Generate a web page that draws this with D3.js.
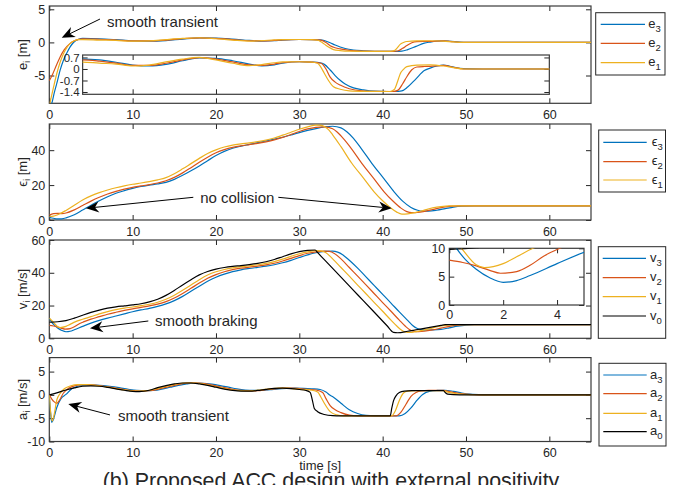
<!DOCTYPE html>
<html>
<head>
<meta charset="utf-8">
<script src="https://cdn.jsdelivr.net/npm/d3@7"></script>
<style>
  body { margin: 0; background: #fff; }
  svg { display: block; }
  text { font-family: "Liberation Sans", Arial, Helvetica, sans-serif; fill: #262626; }
</style>
</head>
<body>
<svg id="chart" width="679" height="485"></svg>
<script>
// ---- data: [time s, value] ----
const e3 = [[0,-10],[0.3,-9.2],[0.6,-7.6],[0.9,-6.2],[1.3,-4.2],[1.7,-2.7],[2.1,-1.6],[2.5,-0.67],[3,0.1],[3.5,0.45],[4,0.6],[6,0.55],[8,0.41],[10,0.24],[12,0.18],[14,0.28],[16,0.5],[18,0.68],[20,0.65],[22,0.5],[24,0.3],[25.5,0.18],[27,0.25],[28,0.35],[30,0.44],[31.5,0.42],[32.5,0.38],[33,0.28],[33.7,-0.06],[34.3,-0.4],[34.9,-0.69],[35.5,-0.92],[36.5,-1.15],[37.7,-1.27],[39,-1.35],[40.5,-1.37],[41.5,-1.37],[42.3,-1.33],[43,-1.1],[44,-0.6],[45,-0.1],[45.7,0.05],[46.5,0.18],[47.3,0.24],[48.2,0.15],[49.7,0.02],[52,0],[65,0]];
const e2 = [[0,-5.8],[0.4,-4.8],[0.8,-3.6],[1.3,-2.2],[1.8,-1.1],[2.5,-0.15],[3,0.25],[3.5,0.45],[4,0.55],[6,0.48],[8,0.36],[10,0.22],[12,0.22],[14,0.35],[16,0.55],[18,0.69],[20,0.6],[22,0.43],[24,0.25],[25.5,0.22],[27,0.3],[28,0.38],[30,0.44],[31.5,0.42],[32.6,0.35],[33.2,0],[33.7,-0.5],[34.3,-0.8],[34.9,-0.98],[36,-1.2],[37.5,-1.33],[39,-1.36],[41.2,-1.37],[41.8,-1.3],[42.4,-0.9],[42.9,-0.47],[43.5,-0.05],[44.1,0.12],[45,0.15],[45.7,0.16],[47.3,0.22],[48.5,0.1],[49.7,0],[52,0],[65,0]];
const e1 = [[0,-9.6],[0.5,-6.8],[0.9,-4.7],[1.3,-3],[1.7,-1.7],[2.1,-0.8],[2.5,-0.15],[3,0.25],[3.5,0.42],[4,0.42],[6,0.35],[8,0.3],[10,0.18],[12,0.24],[14,0.43],[16,0.6],[18,0.7],[20,0.55],[22,0.35],[24,0.2],[25.5,0.27],[27,0.38],[28,0.43],[30,0.44],[31.5,0.42],[32.2,0.35],[32.6,0.1],[33,-0.26],[33.5,-0.7],[34.1,-1.08],[34.9,-1.23],[36,-1.33],[38,-1.36],[40.9,-1.37],[41.4,-1.25],[41.8,-0.75],[42.1,-0.3],[42.5,-0.02],[42.9,0.14],[44.1,0.24],[45.7,0.25],[47.3,0.18],[48.5,0.08],[49.7,0],[65,0]];

const eps3 = [[0,1.6],[0.5,1],[1,0.6],[1.5,0.7],[2,1.2],[3,3],[4,5.7],[5,8.5],[6,11],[7,13.3],[8,15.3],[9,16.8],[10,18.1],[11,19.2],[12,20],[13,20.7],[14,21.6],[15,23.3],[16,25.6],[17,28.2],[18,31],[19,34],[20,36.9],[21,39.3],[22,41.1],[23,42.3],[24,43.3],[25,44.3],[26,45.3],[27,46.3],[28,47.4],[29,48.7],[30,50.1],[31,51.3],[32,52.4],[33,53.3],[34,53.7],[35,52.8],[35.7,50.6],[36.5,46.8],[37.5,40.5],[38.7,32.5],[40.1,24],[41.4,16],[42.4,10.8],[43.4,7.2],[44.2,5.6],[44.8,5.1],[45.5,5.1],[46.5,5.6],[47.5,6.5],[48.5,7.4],[49.5,7.9],[51,8.1],[65,8.1]];
const eps2 = [[0,2.8],[0.5,3.6],[1,3.8],[1.5,3.7],[2,4],[3,5.8],[4,8.3],[5,10.8],[6,13],[7,14.9],[8,16.4],[9,17.7],[10,18.7],[11,19.5],[12,20.3],[13,21.2],[14,22.5],[15,24.4],[16,27],[17,30],[18,33.1],[19,36],[20,38.5],[21,40.3],[22,41.6],[23,42.5],[24,43.2],[25,43.9],[26,44.8],[27,45.9],[28,47.3],[29,49],[30,50.7],[31,52.2],[32,53.1],[33,53.4],[34,52.3],[34.5,50.6],[35,48.2],[36,42.5],[37.5,32.5],[38.9,24],[40.2,16],[41.2,11],[42.2,6.8],[42.9,4.8],[43.5,4.2],[44.2,4.3],[45,4.9],[46,6],[47,7.1],[48,7.8],[49,8.1],[50,8.1],[65,8.1]];
const eps1 = [[0,2],[0.5,2.2],[1,3],[2,5.5],[3,8.5],[4,11.5],[5,13.8],[6,15.7],[7,17.2],[8,18.5],[9,19.6],[10,20.5],[11,21.2],[12,22],[13,23],[14,24.3],[15,26.5],[16,29.3],[17,32.3],[18,35.3],[19,38.1],[20,40.2],[21,41.8],[22,42.9],[23,43.6],[24,44.2],[25,44.9],[26,45.8],[27,47],[28,48.6],[29,50.3],[30,52],[31,53.4],[32,54.3],[32.6,54.2],[33,53.5],[33.5,51.8],[34,48.8],[35,42],[36.3,32.5],[37.7,24],[39,16],[40,11],[41,6.8],[41.7,4.5],[42.3,3.4],[43,3.5],[44,4.4],[45,5.7],[46,6.9],[47,7.7],[48,8.1],[50,8.1],[65,8.1]];

const v3 = [[0,12.2],[0.27,10],[0.6,8],[1,6.3],[1.5,4.8],[2,4],[2.5,4.3],[3,5.2],[4,7.3],[5,9.3],[6,10.9],[7,12.3],[8,13.6],[9,14.9],[10,16.2],[11,17.3],[12,18.3],[13,19.5],[14,21],[15,23],[16,25.6],[17,28.7],[18,31.8],[19,34.8],[20,37.3],[21,39.2],[22,40.7],[23,41.8],[24,42.6],[25,43.3],[26,44],[27,44.9],[28,46.1],[29,47.6],[30,49.3],[31,50.9],[32,52.2],[33,53],[34,53.2],[34.6,52.6],[35.2,51],[36,47.6],[37,42.8],[38,37.5],[39,32.2],[40,26.8],[41,21.5],[42,16.1],[43,10.9],[43.6,7.8],[44.1,6.1],[44.6,5.3],[45.3,5],[46,5.1],[47,5.5],[48,6.4],[49,7.4],[50,8.1],[51,8.4],[65,8.4]];
const v2 = [[0,7.9],[0.5,7.5],[1,6.9],[1.5,6.1],[1.9,5.6],[2.5,5.9],[3,7],[3.5,8.6],[4.1,10],[5,11.7],[6,13.2],[7,14.7],[8,15.9],[9,17],[10,18],[11,18.9],[12,19.8],[13,20.9],[14,22.4],[15,24.6],[16,27.4],[17,30.5],[18,33.7],[19,36.6],[20,38.9],[21,40.6],[22,41.9],[23,42.8],[24,43.5],[25,44.1],[26,44.8],[27,45.8],[28,47.2],[29,48.8],[30,50.5],[31,51.9],[32,52.8],[33,53.2],[33.6,53],[34.2,51.8],[35,48.5],[36,43.2],[37,37.9],[38,32.6],[39,27.2],[40,21.8],[41,16.5],[42,11.1],[42.7,7.5],[43.2,5.4],[43.7,4.4],[44.3,4.1],[45,4.3],[46,5.1],[47,6.2],[48,7.3],[49,8],[50,8.3],[51,8.4],[65,8.4]];
const v1 = [[0,12.3],[0.45,10],[1,7.1],[1.3,6.6],[2,7.3],[2.5,8.5],[3.1,10],[4,11.6],[5,13.2],[6,14.9],[7,16.3],[8,17.5],[9,18.4],[10,19.1],[11,19.9],[12,20.8],[13,22],[14,23.8],[15,26.3],[16,29.3],[17,32.6],[18,35.8],[19,38.6],[20,40.6],[21,42],[22,43],[23,43.7],[24,44.3],[25,44.9],[26,45.7],[27,46.8],[28,48.3],[29,50],[30,51.6],[31,52.8],[32,53.5],[32.6,53.4],[33.2,52.2],[34,48.5],[35,43.2],[36,37.9],[37,32.5],[38,27.2],[39,21.8],[40,16.5],[41,11.1],[41.7,7.5],[42.2,5.2],[42.7,3.9],[43.3,3.6],[44,4.1],[45,5.1],[46,6.4],[47,7.5],[48,8.2],[49,8.4],[65,8.4]];
const v0 = [[0,9.8],[1,10.1],[2,10.8],[3,12.3],[4,14.1],[5,15.8],[6,17.2],[7,18.4],[8,19.2],[9,19.8],[10,20.4],[11,21.1],[12,22.2],[13,23.8],[14,26.2],[15,29.2],[16,32.6],[17,35.8],[18,38.7],[19,40.8],[20,42.2],[21,43.2],[22,43.9],[23,44.4],[24,45],[25,45.7],[26,46.7],[27,48.1],[28,49.8],[29,51.5],[30,52.9],[31,53.7],[31.9,53.9],[32.2,52.3],[33,48],[35,37.3],[37,26.6],[39,15.9],[40.5,7.8],[41.3,3.6],[41.8,3.4],[43,4.3],[44,5.2],[45,6.1],[46,7],[47,7.9],[47.5,8.35],[48.5,8.4],[65,8.4]];

const a3 = [[0,0],[0.15,-3.8],[0.3,-5.9],[0.5,-5.2],[0.9,-2.7],[1.4,-0.8],[2,0.1],[2.7,1.3],[3.5,1.9],[4.5,2.1],[5.5,2.1],[6.5,2],[7.5,1.8],[8.5,1.5],[9.5,1.2],[10.5,0.95],[11.5,0.85],[12.5,0.95],[13.5,1.25],[14.5,1.65],[15.5,2.05],[16.5,2.35],[17.5,2.55],[18.5,2.5],[19.5,2.3],[20.5,2],[21.5,1.65],[22.5,1.3],[23.5,1.05],[24.5,0.95],[25.5,0.95],[26.5,1.1],[27.5,1.3],[28.5,1.4],[29.5,1.45],[30.5,1.4],[31.5,1.3],[32.5,1.15],[33.2,0.6],[33.7,-0.1],[34.1,-0.5],[35,-1.8],[36,-3.2],[37,-4],[38,-4.4],[39,-4.5],[42,-4.5],[42.7,-4],[43.4,-2.8],[44.1,-1.2],[44.8,0.1],[45.7,0.8],[46.5,0.95],[47.5,1],[48.5,0.75],[49.5,0.4],[50.5,0.15],[52,0.02],[53,0],[65,0]];
const a2 = [[0,0],[0.3,-0.9],[0.6,-1.5],[0.9,-1.8],[1.2,-1.2],[1.7,0.4],[2.3,1.4],[3.1,2],[4,2.2],[5,2.15],[6,2],[7,1.75],[8,1.45],[9,1.15],[10,0.9],[11,0.8],[12,0.9],[13,1.2],[14,1.6],[15,2.05],[16,2.4],[17,2.6],[18,2.55],[19,2.3],[20,1.95],[21,1.55],[22,1.2],[23,0.95],[24,0.85],[25,0.9],[26,1.1],[27,1.3],[28,1.45],[29,1.45],[30,1.35],[31,1.2],[32,1.05],[32.8,0.5],[33.2,-0.8],[33.7,-2.3],[34.3,-3.2],[35,-3.8],[36,-4.35],[37,-4.5],[41.6,-4.5],[42.2,-3.7],[42.8,-2],[43.4,-0.3],[44,0.5],[44.6,0.85],[45.5,0.95],[47.3,0.95],[48,0.7],[49,0.4],[50,0.15],[51,0.05],[52,0],[65,0]];
const a1 = [[0,0],[0.15,-3.5],[0.35,-5.6],[0.55,-4.5],[0.9,-1.1],[1.3,0.3],[1.8,1.3],[2.5,1.9],[3.5,2.2],[4.5,2.2],[5.5,2.05],[6.5,1.8],[7.5,1.5],[8.5,1.2],[9.5,0.95],[10.5,0.8],[11.5,0.85],[12.5,1.15],[13.5,1.6],[14.5,2.05],[15.5,2.4],[16.5,2.6],[17.5,2.55],[18.5,2.3],[19.5,1.95],[20.5,1.55],[21.5,1.2],[22.5,0.95],[23.5,0.85],[24.5,0.9],[25.5,1.1],[26.5,1.3],[27.5,1.45],[28.5,1.45],[29.5,1.3],[30.5,1.15],[31.5,1],[32.2,0.6],[32.6,-0.5],[33,-1.8],[33.7,-3.6],[34.5,-4.3],[35.3,-4.5],[41.1,-4.5],[41.5,-3.5],[42,-1.2],[42.5,0.4],[43,0.8],[44,0.9],[47.3,0.9],[47.8,0.6],[48.5,0.35],[49.5,0.15],[51,0.03],[52,0],[65,0]];
const a0 = [[0,0],[1,0.5],[2,1.05],[3,1.5],[4,1.85],[5,1.95],[6,1.85],[7,1.6],[8,1.3],[9,1],[10,0.75],[10.8,0.7],[12,1],[13,1.55],[14,2],[15,2.35],[16,2.55],[17,2.55],[18,2.35],[19,2.05],[20,1.65],[21,1.25],[22,0.95],[23,0.8],[24,0.8],[25,0.95],[26,1.2],[27,1.4],[28,1.45],[29,1.35],[30,1.15],[30.8,0.95],[31.3,0.55],[31.55,-1],[31.8,-2.9],[32.2,-3.6],[33,-4.2],[34,-4.45],[35,-4.5],[40.9,-4.5],[41.1,-2.8],[41.3,-1.3],[41.6,-0.2],[42,0.5],[42.6,0.8],[43.5,0.9],[47.3,0.9],[47.5,0.5],[47.8,0.15],[48.5,0.05],[50,0],[65,0]];

const timeTicks = [0, 10, 20, 30, 40, 50, 60];
const eTicks = [-5, 0, 5];
const epsTicks = [0, 20, 40];
const vTicks = [0, 20, 40, 60];
const aTicks = [-10, -5, 0, 5];
const eZoomTimeTicks = [10, 20, 30, 40, 50];
const eZoomTicks = [-1.4, -0.7, 0, 0.7];
const vZoomTimeTicks = [0, 2, 4];
const vZoomTicks = [0, 5, 10];
const eNames = ["e", "e", "e"], epsNames = ["\u03f5", "\u03f5", "\u03f5"];
const vNames = ["v", "v", "v", "v"], aNames = ["a", "a", "a", "a"];
const subs3 = ["3", "2", "1"], subs4 = ["3", "2", "1", "0"];

// ---- drawing ----
const svg = d3.select("#chart");
const FONT = '"Liberation Sans", Arial, Helvetica, sans-serif';
const C = { b: "#0072BD", o: "#D95319", y: "#EDB120", k: "#000000" };
const x = d3.scaleLinear().domain([0, 65]).range([49.3, 591]);
const lbl = d => String(d);
let clipId = 0;

function drawAxes(g, xs, ys, o) {
  const [xa, xb] = xs.range(), [yb, ya] = ys.range();
  const fs = o.fs || 12.5;
  g.append("rect").attr("x", xa).attr("y", ya).attr("width", xb - xa).attr("height", yb - ya).attr("fill", "#fff");
  const axes = [
    [d3.axisBottom(xs).tickValues(o.xt).tickPadding(o.xPad || 7).tickFormat(o.xLab ? lbl : ""), `translate(0,${yb})`],
    [d3.axisTop(xs).tickValues(o.xt).tickFormat(""), `translate(0,${ya})`],
    [d3.axisLeft(ys).tickValues(o.yt).tickPadding(o.yPad || 4).tickFormat(lbl), `translate(${xa},0)`],
    [d3.axisRight(ys).tickValues(o.yt).tickFormat(""), `translate(${xb},0)`]
  ];
  axes.forEach(([a, t]) => {
    const s = g.append("g").attr("transform", t).call(a.tickSizeInner(-5).tickSizeOuter(0));
    s.select(".domain").remove();
    s.selectAll("line").attr("stroke", "#262626").attr("stroke-width", 1);
    s.selectAll("text").attr("font-size", fs).attr("font-family", FONT).attr("fill", "#262626");
  });
  g.append("rect").attr("x", xa).attr("y", ya).attr("width", xb - xa).attr("height", yb - ya)
    .attr("fill", "none").attr("stroke", "#3a3a3a").attr("stroke-width", 1.2);
}

function drawSeries(g, xs, ys, list) {
  const [xa, xb] = xs.range(), [yb, ya] = ys.range();
  const id = "clip" + (clipId++);
  g.append("clipPath").attr("id", id).append("rect")
    .attr("x", xa).attr("y", ya).attr("width", xb - xa).attr("height", yb - ya);
  const line = d3.line().x(d => xs(d[0])).y(d => ys(d[1])).curve(d3.curveMonotoneX);
  const cg = g.append("g").attr("clip-path", `url(#${id})`);
  list.forEach(([data, c]) => {
    cg.append("path").datum(data)
      .attr("d", line).attr("fill", "none").attr("stroke", C[c]).attr("stroke-width", 1.2);
  });
}

function yLabel(cy, base, unit) {
  const t = svg.append("text").attr("transform", `translate(26.5,${cy}) rotate(-90)`)
    .attr("text-anchor", "middle").attr("font-size", 13);
  t.append("tspan").text(base);
  t.append("tspan").attr("dy", 3.5).attr("font-size", 9.5).text("i");
  t.append("tspan").attr("dy", -3.5).text(" " + unit);
}

function legend(x0, y0, w, h, names, subs, cols, ys, lx0, lx1, tx) {
  svg.append("rect").attr("x", x0).attr("y", y0).attr("width", w).attr("height", h)
    .attr("fill", "#fff").attr("stroke", "#262626").attr("stroke-width", 1);
  names.forEach((n, i) => {
    svg.append("line").attr("x1", lx0).attr("x2", lx1).attr("y1", ys[i]).attr("y2", ys[i])
      .attr("stroke", C[cols[i]]).attr("stroke-width", 1.2);
    const t = svg.append("text").attr("x", tx).attr("y", ys[i] + 3.5).attr("font-size", 13);
    t.append("tspan").text(n);
    t.append("tspan").attr("dy", 4).attr("font-size", 9.5).text(subs[i]);
  });
}

function arrow(xs, ys, from, to) {
  const x1 = xs(from[0]), y1 = ys(from[1]), x2 = xs(to[0]), y2 = ys(to[1]);
  const ang = Math.atan2(y2 - y1, x2 - x1), ux = Math.cos(ang), uy = Math.sin(ang);
  const L = 13, Wd = 5.5, N = 9;
  const bx = x2 - ux * L, by = y2 - uy * L, nx = x2 - ux * N, ny = y2 - uy * N;
  svg.append("line").attr("x1", x1).attr("y1", y1).attr("x2", nx).attr("y2", ny)
    .attr("stroke", "#000").attr("stroke-width", 1);
  svg.append("path").attr("d", `M${x2},${y2}L${bx - uy * Wd},${by + ux * Wd}L${nx},${ny}L${bx + uy * Wd},${by - ux * Wd}Z`)
    .attr("fill", "#000");
}

function note(xs, ys, pos, txt) {
  svg.append("text").attr("x", xs(pos[0])).attr("y", ys(pos[1])).attr("font-size", 15).text(txt);
}

// panel 1: spacing error e_i
const yE = d3.scaleLinear().domain([-9.2, 5.5]).range([103.3, 6]);
const g1 = svg.append("g");
drawAxes(g1, x, yE, { xt: timeTicks, yt: eTicks, xLab: true });
drawSeries(g1, x, yE, [[e3, "b"], [e2, "o"], [e1, "y"]]);
// inset of panel 1
const xEz = d3.scaleLinear().domain([4, 60]).range([x(4), x(60)]);
const yEz = d3.scaleLinear().domain([-1.54, 0.85]).range([94.3, 55]);
const g1z = svg.append("g");
drawAxes(g1z, xEz, yEz, { xt: eZoomTimeTicks, yt: eZoomTicks, xLab: false, fs: 11.5, yPad: 3 });
drawSeries(g1z, xEz, yEz, [[e3, "b"], [e2, "o"], [e1, "y"]]);

// panel 2: epsilon_i
const yEps = d3.scaleLinear().domain([0, 55]).range([220, 124]);
const g2 = svg.append("g");
drawAxes(g2, x, yEps, { xt: timeTicks, yt: epsTicks, xLab: true });
drawSeries(g2, x, yEps, [[eps3, "b"], [eps2, "o"], [eps1, "y"]]);

// panel 3: velocity
const yV = d3.scaleLinear().domain([0, 60]).range([338.3, 240]);
const g3 = svg.append("g");
drawAxes(g3, x, yV, { xt: timeTicks, yt: vTicks, xLab: true });
drawSeries(g3, x, yV, [[v3, "b"], [v2, "o"], [v1, "y"], [v0, "k"]]);
const xVz = d3.scaleLinear().domain([0, 5]).range([449.3, 584]);
const yVz = d3.scaleLinear().domain([0, 10]).range([305, 248.3]);
const g3z = svg.append("g");
drawAxes(g3z, xVz, yVz, { xt: vZoomTimeTicks, yt: vZoomTicks, xLab: true, xPad: 5 });
drawSeries(g3z, xVz, yVz, [[v3, "b"], [v2, "o"], [v1, "y"], [v0, "k"]]);

// panel 4: acceleration
const yA = d3.scaleLinear().domain([-10, 8]).range([441.5, 357.6]);
const g4 = svg.append("g");
drawAxes(g4, x, yA, { xt: timeTicks, yt: aTicks, xLab: true });
drawSeries(g4, x, yA, [[a3, "b"], [a2, "o"], [a1, "y"], [a0, "k"]]);

// axis labels
yLabel(54.6, "e", "[m]");
yLabel(172, "\u03f5", "[m]");
yLabel(289, "v", "[m/s]");
yLabel(399.5, "a", "[m/s]");
svg.append("text").attr("x", x(32.5)).attr("y", 469.5).attr("text-anchor", "middle")
  .attr("font-size", 13).text("time [s]");
svg.append("text").attr("x", 331).attr("y", 487.5).attr("text-anchor", "middle")
  .attr("font-size", 21.4).text("(b) Proposed ACC design with external positivity");

// annotations (data coordinates)
note(x, yE, [6.93, 2.33], "smooth transient");
arrow(x, yE, [6.08, 3.53], [1.49, 0.71]);
note(x, yEps, [18.1, 9.9], "no collision");
arrow(x, yEps, [17.28, 13.0], [4.4, 6.7]);
arrow(x, yEps, [27.48, 13.0], [41.09, 6.7]);
note(x, yV, [12.68, 7.5], "smooth braking");
arrow(x, yV, [11.88, 10.56], [4.88, 6.1]);
note(x, yA, [8.24, -5.6], "smooth transient");
arrow(x, yA, [7.28, -4.3], [2.28, -1.96]);

// legends
legend(595.7, 12.7, 69.3, 62.3, eNames, subs3, ["b", "o", "y"], [24.3, 43.3, 62.7], 600.7, 645, 648.3);
legend(598.7, 130, 66.8, 62, epsNames, subs3, ["b", "o", "y"], [142.3, 161.7, 180], 603.3, 646.7, 651.7);
legend(598.3, 246.7, 67.4, 91.6, vNames, subs4, ["b", "o", "y", "k"], [258.3, 277.7, 296.7, 316], 602.7, 646, 650);
legend(599, 363.3, 67, 82.7, aNames, subs4, ["b", "o", "y", "k"], [375, 393.7, 413.3, 431.7], 603.3, 646.7, 650);
</script>
</body>
</html>
